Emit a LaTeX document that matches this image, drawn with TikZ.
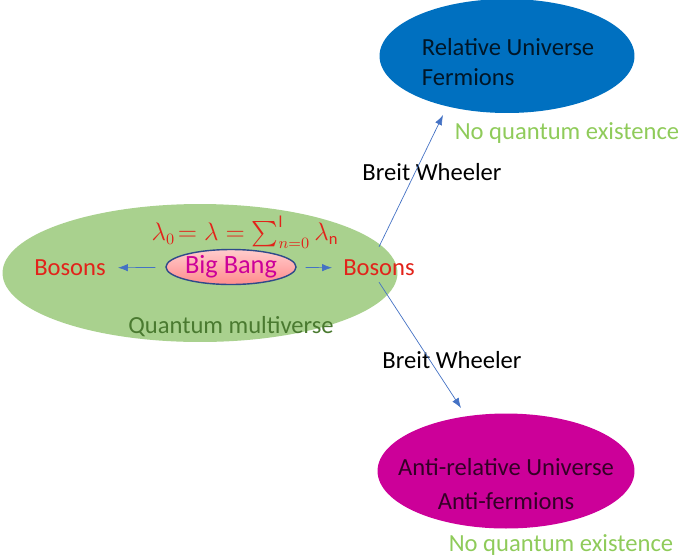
\documentclass[tikz,border=0pt]{standalone}
\usepackage{fontspec}
\setmainfont{Carlito}
\usepackage{amsmath}
\usetikzlibrary{arrows.meta,positioning,shapes.geometric}
\definecolor{grass}{HTML}{A9D18E}
\definecolor{ocean}{HTML}{0070C0}
\definecolor{plum}{HTML}{CC0099}
\definecolor{bred}{HTML}{E2231A}
\definecolor{lime}{HTML}{8FCB5A}
\definecolor{forest}{HTML}{4A7A30}
\definecolor{navy}{HTML}{2E4A8A}
\definecolor{wire}{HTML}{4472C4}
\newcommand{\blob}[6]{
  \node[ellipse,fill=#3,minimum width=#4,minimum height=#5,inner sep=0pt,align=center] (#1) at #2 {#6};
}

\begin{document}
\begin{tikzpicture}[x=0.02cm,y=-0.02cm,>={Latex[length=2mm,width=1.5mm]},
  font=\fontsize{14}{17}\selectfont]
  \useasboundingbox (0,0) rectangle (682,555);
  \blob{multi}{(200,273)}{grass}{7.9cm}{2.76cm}{}
  \blob{rel}{(507,56)}{ocean}{5.1cm}{2.28cm}{}
  \blob{anti}{(506,471)}{plum}{5.14cm}{2.3cm}{}
  \node[align=left,text=black!80!ocean] (reltxt) at (508,62) {Relative Universe\\Fermions};
  \node[align=center,text=black!75!plum] (antitxt) at (506,484) {Anti-relative Universe\\[2pt]Anti-fermions};
  \node[ellipse,draw=navy,thick,top color=red!20,bottom color=red!45,text=plum,
    minimum width=2.5cm,minimum height=0.7cm,inner sep=0pt,font=\fontsize{15}{17}\selectfont] (bang) at (231,267) {Big Bang};
  \node[text=bred] (lbos) at (70,268) {Bosons};
  \node[text=bred] (rbos) at (379,268) {Bosons};
  \node[text=bred,font=\fontsize{13.5}{16}\selectfont] (eq) at (245,232)
    {$\lambda_0\!= \lambda = \textstyle\sum_{n=0}^{\mathrm{l}}\lambda_{\mathrm{n}}$};
  \node[text=forest] (qm) at (231,327) {Quantum multiverse};
  \node[text=lime] (nq1) at (567,133) {No quantum existence};
  \node[text=lime] (nq2) at (561,545) {No quantum existence};
  \node (bw1) at (432,172) {Breit Wheeler};
  \node (bw2) at (452,360) {Breit Wheeler};
  \coordinate (upend) at (443,115);
  \coordinate (downend) at (461,408);
  \draw[->,wire,shorten <=0.2cm,shorten >=0.12cm] (bang) -- (lbos);
  \draw[->,wire,shorten <=0.18cm,shorten >=0.1cm] (bang) -- (rbos);
  \draw[->,wire] ([yshift=4pt]rbos.north) -- (upend);
  \draw[->,wire] (rbos.south) -- (downend);
\end{tikzpicture}
\end{document}
